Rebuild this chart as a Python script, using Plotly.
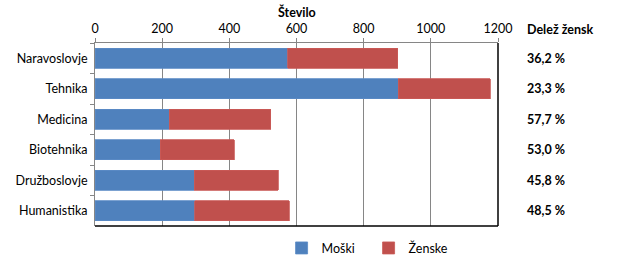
import plotly.graph_objects as go

categories = ["Naravoslovje", "Tehnika", "Medicina", "Biotehnika", "Družboslovje", "Humanistika"]
moski = [574, 903, 221, 195, 296, 297]
zenske = [327, 274, 302, 220, 250, 282]
delez = ["36,2 %", "23,3 %", "57,7 %", "53,0 %", "45,8 %", "48,5 %"]
x_ticks = [0, 200, 400, 600, 800, 1000, 1200]

FONT = "Lato"
BLUE = "#4F81BD"
RED = "#C0504D"

fig = go.Figure()
fig.add_trace(go.Bar(y=categories, x=moski, name="Moški", orientation="h",
                     marker=dict(color=BLUE, line=dict(color="#5B8BC6", width=0.8))))
fig.add_trace(go.Bar(y=categories, x=zenske, name="Ženske", orientation="h",
                     marker=dict(color=RED, line=dict(color="#C95A57", width=0.8))))

for c, d in zip(categories, delez):
    fig.add_annotation(x=1.068, xref="paper", y=c, yref="y", text="<b>%s</b>" % d,
                       showarrow=False, xanchor="left", yanchor="middle",
                       font=dict(family=FONT, size=12.5, color="#000000"))

fig.add_annotation(x=1.068, xref="paper", y=1.076, yref="paper", text="<b>Delež žensk</b>",
                   showarrow=False, xanchor="left", yanchor="middle",
                   font=dict(family=FONT, size=12.5, color="#000000"))
fig.add_annotation(x=0.5, xref="paper", y=1.17, yref="paper", text="<b>Število</b>",
                   showarrow=False, xanchor="center", yanchor="middle",
                   font=dict(family=FONT, size=12.5, color="#000000"))

# right and bottom dark border lines
fig.add_shape(type="line", xref="paper", yref="paper", x0=1, x1=1, y0=0, y1=1,
              line=dict(color="#000000", width=1.5))
fig.add_shape(type="line", xref="paper", yref="paper", x0=0, x1=1, y0=0, y1=0,
              line=dict(color="#000000", width=1.5))

fig.update_layout(
    barmode="stack",
    bargap=0.34,
    width=640, height=275,
    margin=dict(l=95, r=142, t=43, b=43),
    paper_bgcolor="white", plot_bgcolor="white",
    font=dict(family=FONT, size=12.5, color="#000000"),
    showlegend=True,
    legend=dict(orientation="h", x=0.463, xanchor="left", y=-0.04, yanchor="top",
                font=dict(family=FONT, size=12.5, color="#000000"),
                itemwidth=30, entrywidth=42, entrywidthmode="pixels",
                traceorder="normal"),
    xaxis=dict(side="top", range=[0, 1200], tickvals=x_ticks,
               ticktext=[str(v) for v in x_ticks],
               showgrid=True, gridcolor="#868686", gridwidth=1,
               showline=True, linecolor="#868686", linewidth=1,
               ticks="outside", ticklen=4, tickcolor="#868686",
               zeroline=False, tickfont=dict(family=FONT, size=12.5)),
    yaxis=dict(autorange="reversed", showgrid=False,
               showline=True, linecolor="#868686", linewidth=1,
               ticks="outside", ticklen=4, tickcolor="#868686",
               ticklabelstandoff=4,
               tickson="boundaries", tickfont=dict(family=FONT, size=12.5)),
)

fig.write_html("out.html")
